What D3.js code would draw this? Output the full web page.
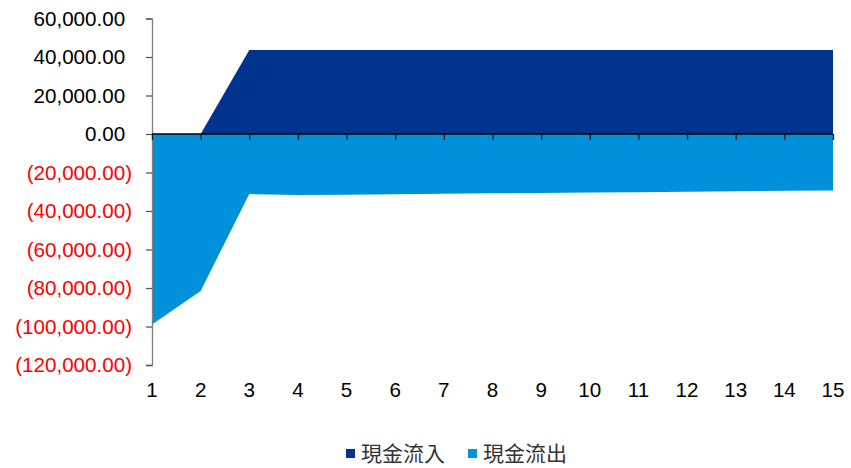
<!DOCTYPE html>
<html>
<head>
<meta charset="utf-8">
<script src="https://cdn.jsdelivr.net/npm/d3@7"></script>
<style>
  html, body { margin: 0; padding: 0; background: #fff; }
  svg { display: block; }
</style>
</head>
<body>
<svg id="chart" width="851" height="468"></svg>
<script>
// Periods and yearly cash flows
const periods = [1, 2, 3, 4, 5, 6, 7, 8, 9, 10, 11, 12, 13, 14, 15];
const cashIn  = [0, 0, 43600, 43600, 43600, 43600, 43600, 43600, 43600, 43600, 43600, 43600, 43600, 43600, 43600];
const cashOut = [-98900, -81500, -31200, -31700, -31500, -31300, -31000, -30800, -30600, -30400, -30200, -30000, -29800, -29500, -29300];
const yTicks  = [60000, 40000, 20000, 0, -20000, -40000, -60000, -80000, -100000, -120000];
const seriesNames = ["現金流入", "現金流出"];
const seriesColors = ["#00338E", "#0091DA"];

const svg = d3.select("#chart");
const plot = { left: 152, right: 833, top: 18.5, bottom: 365 };
const fontFamily = "'Liberation Sans', Arial, sans-serif";
const fontSize = 20.6;

const x = d3.scaleLinear().domain([1, 15]).range([plot.left, plot.right]);
const y = d3.scaleLinear().domain([-120000, 60000]).range([plot.bottom, plot.top]);

const fmt = d3.format(",.2f");

// Areas: outflow below zero, inflow above
const area = vals => d3.area()
  .x((d, i) => x(periods[i]))
  .y0(y(0))
  .y1(d => y(d))(vals);

svg.append("path").attr("d", area(cashOut)).attr("fill", seriesColors[1]);
svg.append("path").attr("d", area(cashIn)).attr("fill", seriesColors[0]);

// Value axis
const yAxis = svg.append("g").attr("transform", `translate(${plot.left},0)`)
  .call(d3.axisLeft(y).tickValues(yTicks).tickSize(6).tickFormat(""));
yAxis.select(".domain").attr("stroke", "#7f7f7f").attr("stroke-width", 1.3);
yAxis.selectAll(".tick line").attr("stroke", "#595959").attr("stroke-width", 1.3);

const parenW = fontSize * 0.333;
svg.append("g").selectAll("text").data(yTicks).join("text")
  .attr("x", d => d < 0 ? plot.left - 20 : plot.left - 20 - parenW)
  .attr("y", d => y(d))
  .attr("dy", "0.35em")
  .attr("text-anchor", "end")
  .attr("font-family", fontFamily)
  .attr("font-size", fontSize)
  .attr("fill", d => d < 0 ? "#FF0000" : "#000")
  .text(d => d < 0 ? `(${fmt(-d)})` : fmt(d));

// Category axis along zero
const xAxis = svg.append("g").attr("transform", `translate(0,${y(0)})`)
  .call(d3.axisBottom(x).tickValues(periods).tickSize(6).tickFormat(""));
xAxis.select(".domain").attr("stroke", "#000").attr("stroke-width", 1.5)
  .attr("d", `M${plot.left},0H${plot.right}`);
xAxis.selectAll(".tick line").attr("stroke", "#1a1a1a").attr("stroke-width", 1.3);

svg.append("g").selectAll("text").data(periods).join("text")
  .attr("x", d => x(d))
  .attr("y", 390)
  .attr("dy", "0.35em")
  .attr("text-anchor", "middle")
  .attr("font-family", fontFamily)
  .attr("font-size", fontSize)
  .attr("fill", "#000")
  .text(d => d);

// Legend
const legendX = [346, 468];
const legend = svg.append("g").selectAll("g").data(seriesNames).join("g")
  .attr("transform", (d, i) => `translate(${legendX[i]},449)`);
legend.append("rect").attr("width", 9).attr("height", 9)
  .attr("fill", (d, i) => seriesColors[i]);
legend.append("text")
  .attr("x", 15).attr("y", 4.5).attr("dy", "0.36em")
  .attr("font-family", "'Noto Sans CJK TC', 'Noto Sans CJK SC', sans-serif")
  .attr("font-size", 21)
  .attr("fill", "#333")
  .text(d => d);
</script>
</body>
</html>
